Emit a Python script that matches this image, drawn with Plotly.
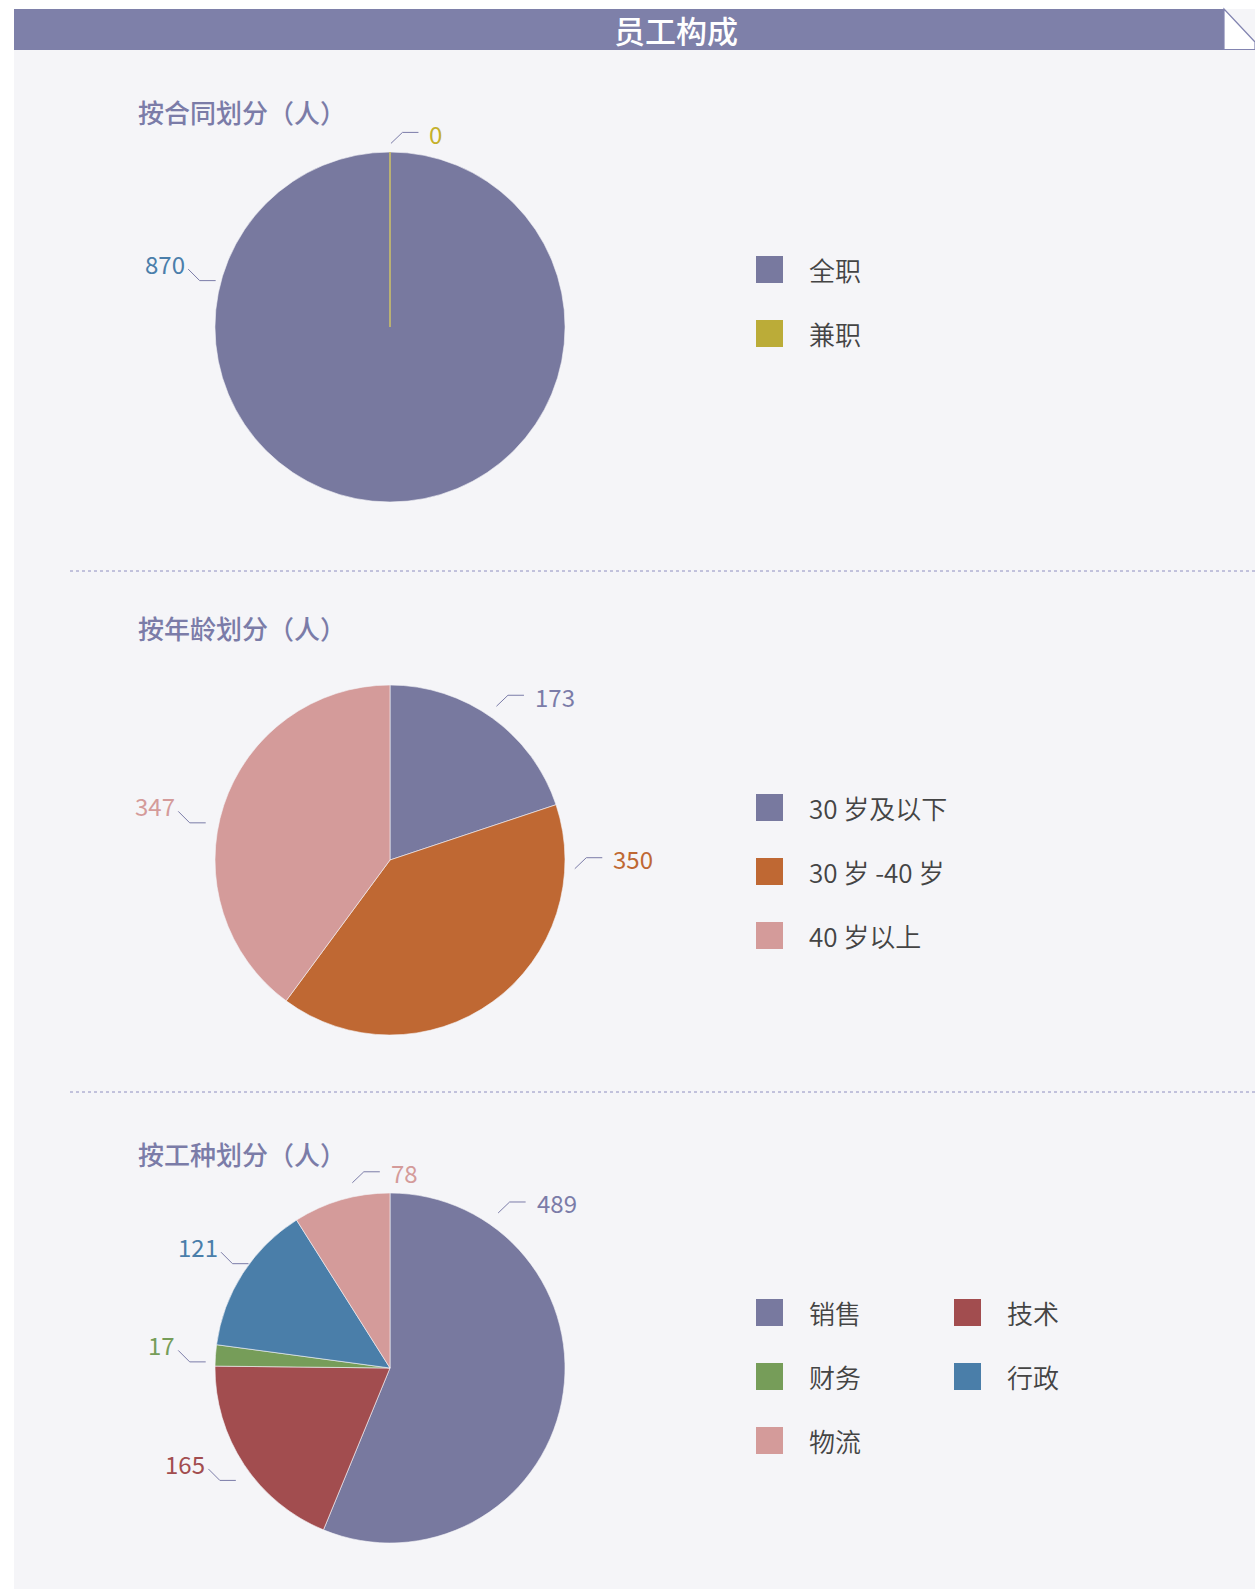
import math
import plotly.graph_objects as go

# ---------------- data ----------------
header_title = "员工构成"
section_titles = ["按合同划分（人）", "按年龄划分（人）", "按工种划分（人）"]

contract_labels = ["全职", "兼职"]
contract_values = [870, 0]

age_labels = ["30 岁及以下", "30 岁 -40 岁", "40 岁以上"]
age_values = [173, 350, 347]

job_labels = ["销售", "技术", "财务", "行政", "物流"]
job_values = [489, 165, 17, 121, 78]

# ---------------- styles / layout ----------------
W, H = 1255, 1589
PURPLE = "#78799f"
contract_colors = [PURPLE, "#bbac38"]
age_colors = [PURPLE, "#bf6833", "#d49b9a"]
job_colors = [PURPLE, "#a24d4f", "#769d59", "#4a7ea9", "#d49b9a"]

contract_label_colors = ["#4a7eaa", "#c4b02a"]
age_label_colors = ["#7b7ca8", "#bf6833", "#d49b9a"]
job_label_colors = ["#7b7ca8", "#a24d4f", "#769d59", "#4a7eaa", "#d49b9a"]

# label anchor: (angle clockwise from 12 o'clock, distance from centre, side)
contract_label_pos = [(284.9, 180.4, "L"), (0.3, 183.6, "R")]
age_label_pos = [(34.7, 187, "R"), (92.7, 185, "R"), (281.4, 188, "L")]
job_label_pos = [(34.9, 189, "R"), (233.9, 190.8, "L"), (271.9, 184.4, "L"),
                 (306.4, 175.8, "L"), (348.5, 189, "R")]

PIE_CX = 390
PIE_R = 175
PIE_CY = [327, 860, 1368]
TITLE_Y = [112, 627, 1153]
LEGEND_Y0 = [269.5, 807.5, 1312.5]
LEGEND_COLS = [1, 1, 2]
SEP_Y = [571, 1092]

CJK = "Noto Sans CJK SC, Noto Sans, sans-serif"
NUM = "Noto Sans CJK SC, Noto Sans, sans-serif"


def px(x):
    return x / W


def py(y):
    return 1 - y / H


sections = [
    (contract_labels, contract_values, contract_colors, contract_label_colors, contract_label_pos),
    (age_labels, age_values, age_colors, age_label_colors, age_label_pos),
    (job_labels, job_values, job_colors, job_label_colors, job_label_pos),
]

fig = go.Figure()
shapes = []
annotations = []

# page background and header
shapes.append(dict(type="rect", xref="paper", yref="paper", layer="below",
                   x0=px(14), x1=px(W), y0=py(H), y1=py(9),
                   fillcolor="#f5f5f8", line=dict(width=0)))
shapes.append(dict(type="rect", xref="paper", yref="paper", layer="below",
                   x0=px(14), x1=px(1224), y0=py(50), y1=py(9),
                   fillcolor="#7e80a9", line=dict(width=0)))
shapes.append(dict(type="path", xref="paper", yref="paper", layer="below",
                   path=f"M {px(1224)},{py(9)} L {px(1255)},{py(42)} L {px(1255)},{py(49.5)} L {px(1224)},{py(49.5)} Z",
                   fillcolor="#ffffff", line=dict(color="#8284b0", width=1.2)))
annotations.append(dict(xref="paper", yref="paper", x=px(676), y=py(30),
                        text=header_title, showarrow=False, xanchor="center", yanchor="middle",
                        font=dict(family=CJK, size=31, color="#ffffff", weight=500)))

# separators
for sy in SEP_Y:
    shapes.append(dict(type="line", xref="paper", yref="paper", layer="below",
                       x0=px(70), x1=px(W), y0=py(sy), y1=py(sy),
                       line=dict(color="#8e8ec0", width=1, dash="dot")))

for i, (labels, values, colors, lcolors, lpos) in enumerate(sections):
    cy = PIE_CY[i]
    fig.add_trace(go.Pie(
        labels=labels, values=values, sort=False, direction="clockwise", rotation=0,
        marker=dict(colors=colors, line=dict(color="#f5f5f8", width=0.6)),
        textinfo="none", hoverinfo="label+value", showlegend=False,
        domain=dict(x=[px(PIE_CX - PIE_R), px(PIE_CX + PIE_R)],
                    y=[py(cy + PIE_R), py(cy - PIE_R)]),
    ))

    # zero-value slices drawn as a thin radius line at their start angle
    total = sum(values)
    cum = 0
    for v, c in zip(values, colors):
        if v == 0:
            ang = math.radians(cum / total * 360)
            shapes.append(dict(type="line", xref="paper", yref="paper", layer="above",
                               x0=px(PIE_CX), y0=py(cy),
                               x1=px(PIE_CX + PIE_R * math.sin(ang)),
                               y1=py(cy - PIE_R * math.cos(ang)),
                               line=dict(color=c, width=1.2)))
        cum += v

    # section title
    annotations.append(dict(xref="paper", yref="paper", x=px(136), y=py(TITLE_Y[i]),
                            text=section_titles[i], showarrow=False,
                            xanchor="left", yanchor="middle",
                            font=dict(family=CJK, size=26, color="#7b7ca8", weight=500)))

    # data labels with leader lines
    for v, lc, (ang_deg, dist, side) in zip(values, lcolors, lpos):
        a = math.radians(ang_deg)
        x0 = PIE_CX + dist * math.sin(a)
        y0 = cy - dist * math.cos(a)
        if side == "R":
            x1, y1 = x0 + 11.5, y0 - 11
            x2, y2 = x1 + 16, y1
            tx, ty, xa = x2 + 9, y2 + 1, "left"
        else:
            x1, y1 = x0 - 16, y0
            x2, y2 = x1 - 11.5, y1 - 11.5
            tx, ty, xa = x2 - 1, y2 - 5.5, "right"
        shapes.append(dict(type="path", xref="paper", yref="paper", layer="above",
                           path=f"M {px(x0)},{py(y0)} L {px(x1)},{py(y1)} L {px(x2)},{py(y2)}",
                           line=dict(color="#7b7ca8", width=1)))
        annotations.append(dict(xref="paper", yref="paper", x=px(tx), y=py(ty),
                                text=str(v), showarrow=False, xanchor=xa, yanchor="middle",
                                font=dict(family=NUM, size=24, color=lc, weight=400)))

    # legend
    ncol = LEGEND_COLS[i]
    for k, (lab, c) in enumerate(zip(labels, colors)):
        row, col = divmod(k, ncol)
        sx = 756 + col * 198
        yc = LEGEND_Y0[i] + row * 64
        shapes.append(dict(type="rect", xref="paper", yref="paper", layer="above",
                           x0=px(sx), x1=px(sx + 27), y0=py(yc + 13.5), y1=py(yc - 13.5),
                           fillcolor=c, line=dict(width=0)))
        annotations.append(dict(xref="paper", yref="paper", x=px(sx + 51), y=py(yc),
                                text=lab, showarrow=False, xanchor="left", yanchor="middle",
                                font=dict(family=CJK, size=26, color="#444444", weight=350)))

fig.update_layout(
    width=W, height=H, autosize=False,
    margin=dict(l=0, r=0, t=0, b=0, pad=0),
    paper_bgcolor="#ffffff", plot_bgcolor="#ffffff",
    shapes=shapes, annotations=annotations, showlegend=False,
)

fig.write_html("out.html", config={"displayModeBar": False},
               post_script="document.body.style.margin='0';document.body.style.overflow='hidden';")
